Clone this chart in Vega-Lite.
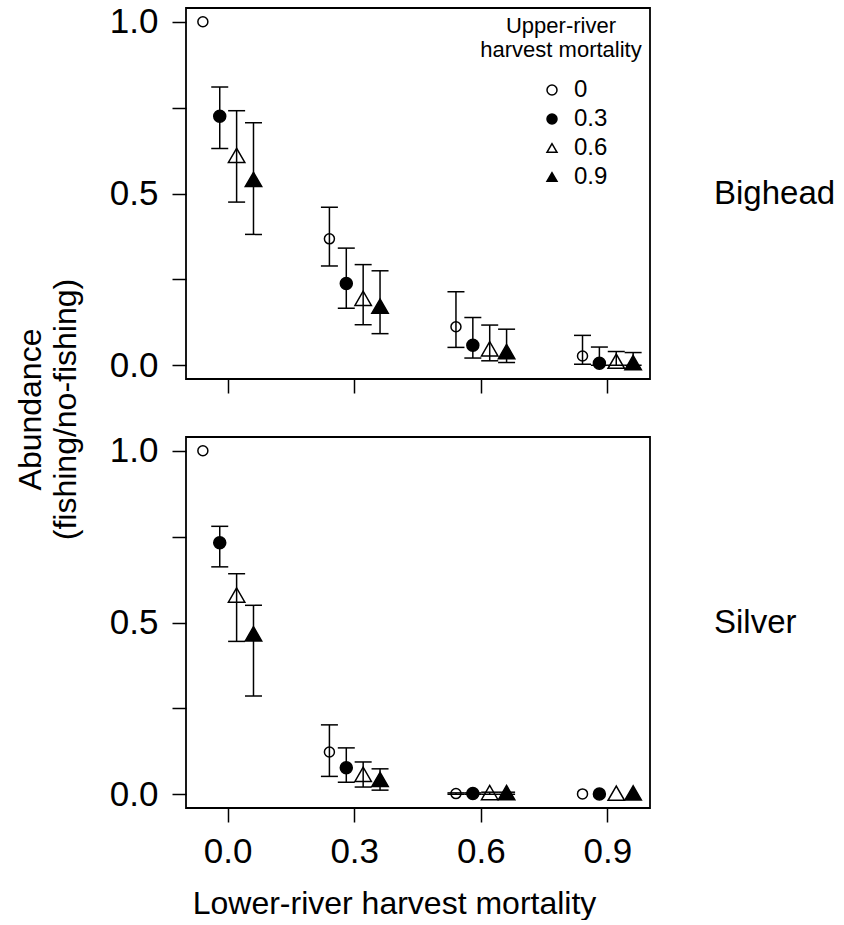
{
  "$schema": "https://vega.github.io/schema/vega-lite/v6.json",
  "padding": {"left": 13, "top": 3, "right": 0, "bottom": 0},
  "config": {
    "font": "Liberation Sans",
    "view": {"stroke": "black", "strokeWidth": 1.8},
    "axis": {"domain": false, "grid": false, "tickColor": "black", "tickWidth": 1.5, "tickSize": 14, "labelColor": "black", "labelFontSize": 35, "labelFont": "Liberation Sans", "titleColor": "black", "titleFont": "Liberation Sans", "titleFontWeight": "normal"},
    "title": {"font": "Liberation Sans", "color": "black", "fontWeight": "normal"}
  },
  "data": {"values": [
    {"species": "Bighead", "lower": "0.0", "upper": "0", "mean": 1.0, "lo": null, "hi": null},
    {"species": "Bighead", "lower": "0.0", "upper": "0.3", "mean": 0.725, "lo": 0.631, "hi": 0.810},
    {"species": "Bighead", "lower": "0.0", "upper": "0.6", "mean": 0.611, "lo": 0.475, "hi": 0.741},
    {"species": "Bighead", "lower": "0.0", "upper": "0.9", "mean": 0.541, "lo": 0.381, "hi": 0.706},
    {"species": "Bighead", "lower": "0.3", "upper": "0", "mean": 0.368, "lo": 0.289, "hi": 0.460},
    {"species": "Bighead", "lower": "0.3", "upper": "0.3", "mean": 0.238, "lo": 0.166, "hi": 0.341},
    {"species": "Bighead", "lower": "0.3", "upper": "0.6", "mean": 0.195, "lo": 0.118, "hi": 0.293},
    {"species": "Bighead", "lower": "0.3", "upper": "0.9", "mean": 0.172, "lo": 0.092, "hi": 0.275},
    {"species": "Bighead", "lower": "0.6", "upper": "0", "mean": 0.112, "lo": 0.052, "hi": 0.214},
    {"species": "Bighead", "lower": "0.6", "upper": "0.3", "mean": 0.058, "lo": 0.021, "hi": 0.139},
    {"species": "Bighead", "lower": "0.6", "upper": "0.6", "mean": 0.048, "lo": 0.013, "hi": 0.117},
    {"species": "Bighead", "lower": "0.6", "upper": "0.9", "mean": 0.040, "lo": 0.008, "hi": 0.105},
    {"species": "Bighead", "lower": "0.9", "upper": "0", "mean": 0.027, "lo": 0.003, "hi": 0.087},
    {"species": "Bighead", "lower": "0.9", "upper": "0.3", "mean": 0.006, "lo": 0.0, "hi": 0.053},
    {"species": "Bighead", "lower": "0.9", "upper": "0.6", "mean": 0.012, "lo": 0.0, "hi": 0.040},
    {"species": "Bighead", "lower": "0.9", "upper": "0.9", "mean": 0.008, "lo": 0.0, "hi": 0.037},
    {"species": "Silver", "lower": "0.0", "upper": "0", "mean": 1.0, "lo": null, "hi": null},
    {"species": "Silver", "lower": "0.0", "upper": "0.3", "mean": 0.732, "lo": 0.662, "hi": 0.780},
    {"species": "Silver", "lower": "0.0", "upper": "0.6", "mean": 0.580, "lo": 0.445, "hi": 0.642},
    {"species": "Silver", "lower": "0.0", "upper": "0.9", "mean": 0.467, "lo": 0.286, "hi": 0.550},
    {"species": "Silver", "lower": "0.3", "upper": "0", "mean": 0.123, "lo": 0.052, "hi": 0.202},
    {"species": "Silver", "lower": "0.3", "upper": "0.3", "mean": 0.077, "lo": 0.035, "hi": 0.135},
    {"species": "Silver", "lower": "0.3", "upper": "0.6", "mean": 0.058, "lo": 0.021, "hi": 0.094},
    {"species": "Silver", "lower": "0.3", "upper": "0.9", "mean": 0.043, "lo": 0.012, "hi": 0.074},
    {"species": "Silver", "lower": "0.6", "upper": "0", "mean": 0.002, "lo": 0.0, "hi": 0.004},
    {"species": "Silver", "lower": "0.6", "upper": "0.3", "mean": 0.002, "lo": 0.0, "hi": 0.004},
    {"species": "Silver", "lower": "0.6", "upper": "0.6", "mean": 0.005, "lo": 0.0, "hi": 0.006},
    {"species": "Silver", "lower": "0.6", "upper": "0.9", "mean": 0.005, "lo": 0.0, "hi": 0.006},
    {"species": "Silver", "lower": "0.9", "upper": "0", "mean": 0.001, "lo": null, "hi": null},
    {"species": "Silver", "lower": "0.9", "upper": "0.3", "mean": 0.001, "lo": null, "hi": null},
    {"species": "Silver", "lower": "0.9", "upper": "0.6", "mean": 0.003, "lo": null, "hi": null},
    {"species": "Silver", "lower": "0.9", "upper": "0.9", "mean": 0.004, "lo": null, "hi": null}
  ]},
  "bounds": "flush",
  "spacing": 58,
  "resolve": {"scale": {"x": "independent", "y": "independent", "xOffset": "independent", "shape": "independent", "fill": "independent"}},
  "vconcat": [
    {
      "width": 464,
      "height": 371,
      "title": {"text": "Bighead", "orient": "right", "angle": 0, "align": "right", "baseline": "middle", "anchor": "middle", "offset": 64, "fontSize": 33},
      "transform": [{"filter": "datum.species === 'Bighead'"}],
      "encoding": {
        "x": {"field": "lower", "type": "nominal", "sort": ["0.0", "0.3", "0.6", "0.9"], "scale": {"type": "band", "paddingInner": 0.6, "paddingOuter": 0.1333}, "axis": {"labels": false, "title": null, "tickSize": 14, "minExtent": 0, "maxExtent": 14}},
        "xOffset": {"field": "upper", "type": "nominal", "scale": {"type": "point", "padding": 0, "domain": ["0", "0.3", "0.6", "0.9"]}}
      },
      "layer": [
        {
          "transform": [{"filter": "isValid(datum.lo)"}],
          "mark": {"type": "rule", "stroke": "black", "strokeWidth": 1.5},
          "encoding": {
            "y": {"field": "lo", "type": "quantitative", "scale": {"domain": [-0.04, 1.04], "nice": false, "zero": false}, "axis": {"values": [0, 0.25, 0.5, 0.75, 1], "labelExpr": "datum.value == 0.25 || datum.value == 0.75 ? '' : format(datum.value, '.1f')", "labelPadding": 14, "title": ["Abundance", "(fishing/no-fishing)"], "titleY": 401, "titleX": -139, "titleFontSize": 32, "titleLineHeight": 35, "titleBaseline": "bottom"}},
            "y2": {"field": "hi"}
          }
        },
        {
          "transform": [{"filter": "isValid(datum.lo)"}],
          "mark": {"type": "tick", "orient": "horizontal", "size": 17, "thickness": 1.5, "color": "black", "opacity": 1},
          "encoding": {
            "y": {"field": "lo", "type": "quantitative", "scale": {"domain": [-0.04, 1.04], "nice": false, "zero": false}, "axis": {"values": [0, 0.25, 0.5, 0.75, 1], "labelExpr": "datum.value == 0.25 || datum.value == 0.75 ? '' : format(datum.value, '.1f')", "labelPadding": 14, "title": ["Abundance", "(fishing/no-fishing)"], "titleY": 401, "titleX": -139, "titleFontSize": 32, "titleLineHeight": 35, "titleBaseline": "bottom"}}
          }
        },
        {
          "transform": [{"filter": "isValid(datum.hi)"}],
          "mark": {"type": "tick", "orient": "horizontal", "size": 17, "thickness": 1.5, "color": "black", "opacity": 1},
          "encoding": {
            "y": {"field": "hi", "type": "quantitative", "scale": {"domain": [-0.04, 1.04], "nice": false, "zero": false}, "axis": {"values": [0, 0.25, 0.5, 0.75, 1], "labelExpr": "datum.value == 0.25 || datum.value == 0.75 ? '' : format(datum.value, '.1f')", "labelPadding": 14, "title": ["Abundance", "(fishing/no-fishing)"], "titleY": 401, "titleX": -139, "titleFontSize": 32, "titleLineHeight": 35, "titleBaseline": "bottom"}}
          }
        },
        {
          "transform": [{"filter": "datum.upper == '0'"}],
          "mark": {"type": "point", "filled": true, "stroke": "black", "strokeWidth": 1.5, "opacity": 1, "size": 100},
          "encoding": {
            "y": {"field": "mean", "type": "quantitative", "scale": {"domain": [-0.04, 1.04], "nice": false, "zero": false}, "axis": {"values": [0, 0.25, 0.5, 0.75, 1], "labelExpr": "datum.value == 0.25 || datum.value == 0.75 ? '' : format(datum.value, '.1f')", "labelPadding": 14, "title": ["Abundance", "(fishing/no-fishing)"], "titleY": 401, "titleX": -139, "titleFontSize": 32, "titleLineHeight": 35, "titleBaseline": "bottom"}},
            "shape": {"field": "upper", "type": "nominal", "scale": {"domain": ["0", "0.3", "0.6", "0.9"], "range": ["circle", "circle", "triangle-up", "triangle-up"]}, "legend": {"orient": "top-right", "offset": 6, "padding": 2, "title": ["Upper-river", "harvest mortality"], "titleFontSize": 22, "titleFontWeight": "normal", "titleColor": "black", "titleAlign": "center", "titleAnchor": "middle", "titleLineHeight": 24, "titlePadding": 16, "labelFontSize": 24, "labelColor": "black", "labelOffset": 10, "symbolOffset": 25, "rowPadding": 5, "encode": {"symbols": {"update": {"size": {"signal": "datum.value == '0' || datum.value == '0.3' ? 49 : 144"}, "stroke": {"value": "black"}, "strokeWidth": {"value": 1.2}}}}}},
            "fill": {"field": "upper", "type": "nominal", "scale": {"domain": ["0", "0.3", "0.6", "0.9"], "range": ["transparent", "black", "transparent", "black"]}, "legend": {"orient": "top-right", "offset": 6, "padding": 2, "title": ["Upper-river", "harvest mortality"], "titleFontSize": 22, "titleFontWeight": "normal", "titleColor": "black", "titleAlign": "center", "titleAnchor": "middle", "titleLineHeight": 24, "titlePadding": 16, "labelFontSize": 24, "labelColor": "black", "labelOffset": 10, "symbolOffset": 25, "rowPadding": 5, "encode": {"symbols": {"update": {"size": {"signal": "datum.value == '0' || datum.value == '0.3' ? 49 : 144"}, "stroke": {"value": "black"}, "strokeWidth": {"value": 1.2}}}}}}
          }
        },
        {
          "transform": [{"filter": "datum.upper == '0.3'"}],
          "mark": {"type": "point", "filled": true, "stroke": "black", "strokeWidth": 1.5, "opacity": 1, "size": 144},
          "encoding": {
            "y": {"field": "mean", "type": "quantitative", "scale": {"domain": [-0.04, 1.04], "nice": false, "zero": false}, "axis": {"values": [0, 0.25, 0.5, 0.75, 1], "labelExpr": "datum.value == 0.25 || datum.value == 0.75 ? '' : format(datum.value, '.1f')", "labelPadding": 14, "title": ["Abundance", "(fishing/no-fishing)"], "titleY": 401, "titleX": -139, "titleFontSize": 32, "titleLineHeight": 35, "titleBaseline": "bottom"}},
            "shape": {"field": "upper", "type": "nominal", "scale": {"domain": ["0", "0.3", "0.6", "0.9"], "range": ["circle", "circle", "triangle-up", "triangle-up"]}, "legend": {"orient": "top-right", "offset": 6, "padding": 2, "title": ["Upper-river", "harvest mortality"], "titleFontSize": 22, "titleFontWeight": "normal", "titleColor": "black", "titleAlign": "center", "titleAnchor": "middle", "titleLineHeight": 24, "titlePadding": 16, "labelFontSize": 24, "labelColor": "black", "labelOffset": 10, "symbolOffset": 25, "rowPadding": 5, "encode": {"symbols": {"update": {"size": {"signal": "datum.value == '0' || datum.value == '0.3' ? 49 : 144"}, "stroke": {"value": "black"}, "strokeWidth": {"value": 1.2}}}}}},
            "fill": {"field": "upper", "type": "nominal", "scale": {"domain": ["0", "0.3", "0.6", "0.9"], "range": ["transparent", "black", "transparent", "black"]}, "legend": {"orient": "top-right", "offset": 6, "padding": 2, "title": ["Upper-river", "harvest mortality"], "titleFontSize": 22, "titleFontWeight": "normal", "titleColor": "black", "titleAlign": "center", "titleAnchor": "middle", "titleLineHeight": 24, "titlePadding": 16, "labelFontSize": 24, "labelColor": "black", "labelOffset": 10, "symbolOffset": 25, "rowPadding": 5, "encode": {"symbols": {"update": {"size": {"signal": "datum.value == '0' || datum.value == '0.3' ? 49 : 144"}, "stroke": {"value": "black"}, "strokeWidth": {"value": 1.2}}}}}}
          }
        },
        {
          "transform": [{"filter": "datum.upper == '0.6' || datum.upper == '0.9'"}],
          "mark": {"type": "point", "filled": true, "stroke": "black", "strokeWidth": 1.5, "opacity": 1, "size": 270},
          "encoding": {
            "y": {"field": "mean", "type": "quantitative", "scale": {"domain": [-0.04, 1.04], "nice": false, "zero": false}, "axis": {"values": [0, 0.25, 0.5, 0.75, 1], "labelExpr": "datum.value == 0.25 || datum.value == 0.75 ? '' : format(datum.value, '.1f')", "labelPadding": 14, "title": ["Abundance", "(fishing/no-fishing)"], "titleY": 401, "titleX": -139, "titleFontSize": 32, "titleLineHeight": 35, "titleBaseline": "bottom"}},
            "shape": {"field": "upper", "type": "nominal", "scale": {"domain": ["0", "0.3", "0.6", "0.9"], "range": ["circle", "circle", "triangle-up", "triangle-up"]}, "legend": {"orient": "top-right", "offset": 6, "padding": 2, "title": ["Upper-river", "harvest mortality"], "titleFontSize": 22, "titleFontWeight": "normal", "titleColor": "black", "titleAlign": "center", "titleAnchor": "middle", "titleLineHeight": 24, "titlePadding": 16, "labelFontSize": 24, "labelColor": "black", "labelOffset": 10, "symbolOffset": 25, "rowPadding": 5, "encode": {"symbols": {"update": {"size": {"signal": "datum.value == '0' || datum.value == '0.3' ? 49 : 144"}, "stroke": {"value": "black"}, "strokeWidth": {"value": 1.2}}}}}},
            "fill": {"field": "upper", "type": "nominal", "scale": {"domain": ["0", "0.3", "0.6", "0.9"], "range": ["transparent", "black", "transparent", "black"]}, "legend": {"orient": "top-right", "offset": 6, "padding": 2, "title": ["Upper-river", "harvest mortality"], "titleFontSize": 22, "titleFontWeight": "normal", "titleColor": "black", "titleAlign": "center", "titleAnchor": "middle", "titleLineHeight": 24, "titlePadding": 16, "labelFontSize": 24, "labelColor": "black", "labelOffset": 10, "symbolOffset": 25, "rowPadding": 5, "encode": {"symbols": {"update": {"size": {"signal": "datum.value == '0' || datum.value == '0.3' ? 49 : 144"}, "stroke": {"value": "black"}, "strokeWidth": {"value": 1.2}}}}}}
          }
        }
      ]
    },
    {
      "width": 464,
      "height": 371,
      "title": {"text": "Silver", "orient": "right", "angle": 0, "align": "right", "baseline": "middle", "anchor": "middle", "offset": 64, "fontSize": 33},
      "transform": [{"filter": "datum.species === 'Silver'"}],
      "encoding": {
        "x": {"field": "lower", "type": "nominal", "sort": ["0.0", "0.3", "0.6", "0.9"], "scale": {"type": "band", "paddingInner": 0.6, "paddingOuter": 0.1333}, "axis": {"labelAngle": 0, "labelPadding": 12, "tickSize": 14, "title": "Lower-river harvest mortality", "titleFontSize": 32, "titlePadding": 19, "titleX": 208}},
        "xOffset": {"field": "upper", "type": "nominal", "scale": {"type": "point", "padding": 0, "domain": ["0", "0.3", "0.6", "0.9"]}}
      },
      "layer": [
        {
          "transform": [{"filter": "isValid(datum.lo)"}],
          "mark": {"type": "rule", "stroke": "black", "strokeWidth": 1.5},
          "encoding": {"y": {"field": "lo", "type": "quantitative", "scale": {"domain": [-0.04, 1.04], "nice": false, "zero": false}, "axis": {"values": [0, 0.25, 0.5, 0.75, 1], "labelExpr": "datum.value == 0.25 || datum.value == 0.75 ? '' : format(datum.value, '.1f')", "labelPadding": 14, "title": null}}, "y2": {"field": "hi"}}
        },
        {
          "transform": [{"filter": "isValid(datum.lo)"}],
          "mark": {"type": "tick", "orient": "horizontal", "size": 17, "thickness": 1.5, "color": "black", "opacity": 1},
          "encoding": {"y": {"field": "lo", "type": "quantitative", "scale": {"domain": [-0.04, 1.04], "nice": false, "zero": false}, "axis": {"values": [0, 0.25, 0.5, 0.75, 1], "labelExpr": "datum.value == 0.25 || datum.value == 0.75 ? '' : format(datum.value, '.1f')", "labelPadding": 14, "title": null}}}
        },
        {
          "transform": [{"filter": "isValid(datum.hi)"}],
          "mark": {"type": "tick", "orient": "horizontal", "size": 17, "thickness": 1.5, "color": "black", "opacity": 1},
          "encoding": {"y": {"field": "hi", "type": "quantitative", "scale": {"domain": [-0.04, 1.04], "nice": false, "zero": false}, "axis": {"values": [0, 0.25, 0.5, 0.75, 1], "labelExpr": "datum.value == 0.25 || datum.value == 0.75 ? '' : format(datum.value, '.1f')", "labelPadding": 14, "title": null}}}
        },
        {
          "transform": [{"filter": "datum.upper == '0'"}],
          "mark": {"type": "point", "filled": true, "stroke": "black", "strokeWidth": 1.5, "opacity": 1, "size": 100},
          "encoding": {
            "y": {"field": "mean", "type": "quantitative", "scale": {"domain": [-0.04, 1.04], "nice": false, "zero": false}, "axis": {"values": [0, 0.25, 0.5, 0.75, 1], "labelExpr": "datum.value == 0.25 || datum.value == 0.75 ? '' : format(datum.value, '.1f')", "labelPadding": 14, "title": null}},
            "shape": {"field": "upper", "type": "nominal", "scale": {"domain": ["0", "0.3", "0.6", "0.9"], "range": ["circle", "circle", "triangle-up", "triangle-up"]}, "legend": null},
            "fill": {"field": "upper", "type": "nominal", "scale": {"domain": ["0", "0.3", "0.6", "0.9"], "range": ["transparent", "black", "transparent", "black"]}, "legend": null}
          }
        },
        {
          "transform": [{"filter": "datum.upper == '0.3'"}],
          "mark": {"type": "point", "filled": true, "stroke": "black", "strokeWidth": 1.5, "opacity": 1, "size": 144},
          "encoding": {
            "y": {"field": "mean", "type": "quantitative", "scale": {"domain": [-0.04, 1.04], "nice": false, "zero": false}, "axis": {"values": [0, 0.25, 0.5, 0.75, 1], "labelExpr": "datum.value == 0.25 || datum.value == 0.75 ? '' : format(datum.value, '.1f')", "labelPadding": 14, "title": null}},
            "shape": {"field": "upper", "type": "nominal", "scale": {"domain": ["0", "0.3", "0.6", "0.9"], "range": ["circle", "circle", "triangle-up", "triangle-up"]}, "legend": null},
            "fill": {"field": "upper", "type": "nominal", "scale": {"domain": ["0", "0.3", "0.6", "0.9"], "range": ["transparent", "black", "transparent", "black"]}, "legend": null}
          }
        },
        {
          "transform": [{"filter": "datum.upper == '0.6' || datum.upper == '0.9'"}],
          "mark": {"type": "point", "filled": true, "stroke": "black", "strokeWidth": 1.5, "opacity": 1, "size": 270},
          "encoding": {
            "y": {"field": "mean", "type": "quantitative", "scale": {"domain": [-0.04, 1.04], "nice": false, "zero": false}, "axis": {"values": [0, 0.25, 0.5, 0.75, 1], "labelExpr": "datum.value == 0.25 || datum.value == 0.75 ? '' : format(datum.value, '.1f')", "labelPadding": 14, "title": null}},
            "shape": {"field": "upper", "type": "nominal", "scale": {"domain": ["0", "0.3", "0.6", "0.9"], "range": ["circle", "circle", "triangle-up", "triangle-up"]}, "legend": null},
            "fill": {"field": "upper", "type": "nominal", "scale": {"domain": ["0", "0.3", "0.6", "0.9"], "range": ["transparent", "black", "transparent", "black"]}, "legend": null}
          }
        }
      ]
    }
  ]
}
